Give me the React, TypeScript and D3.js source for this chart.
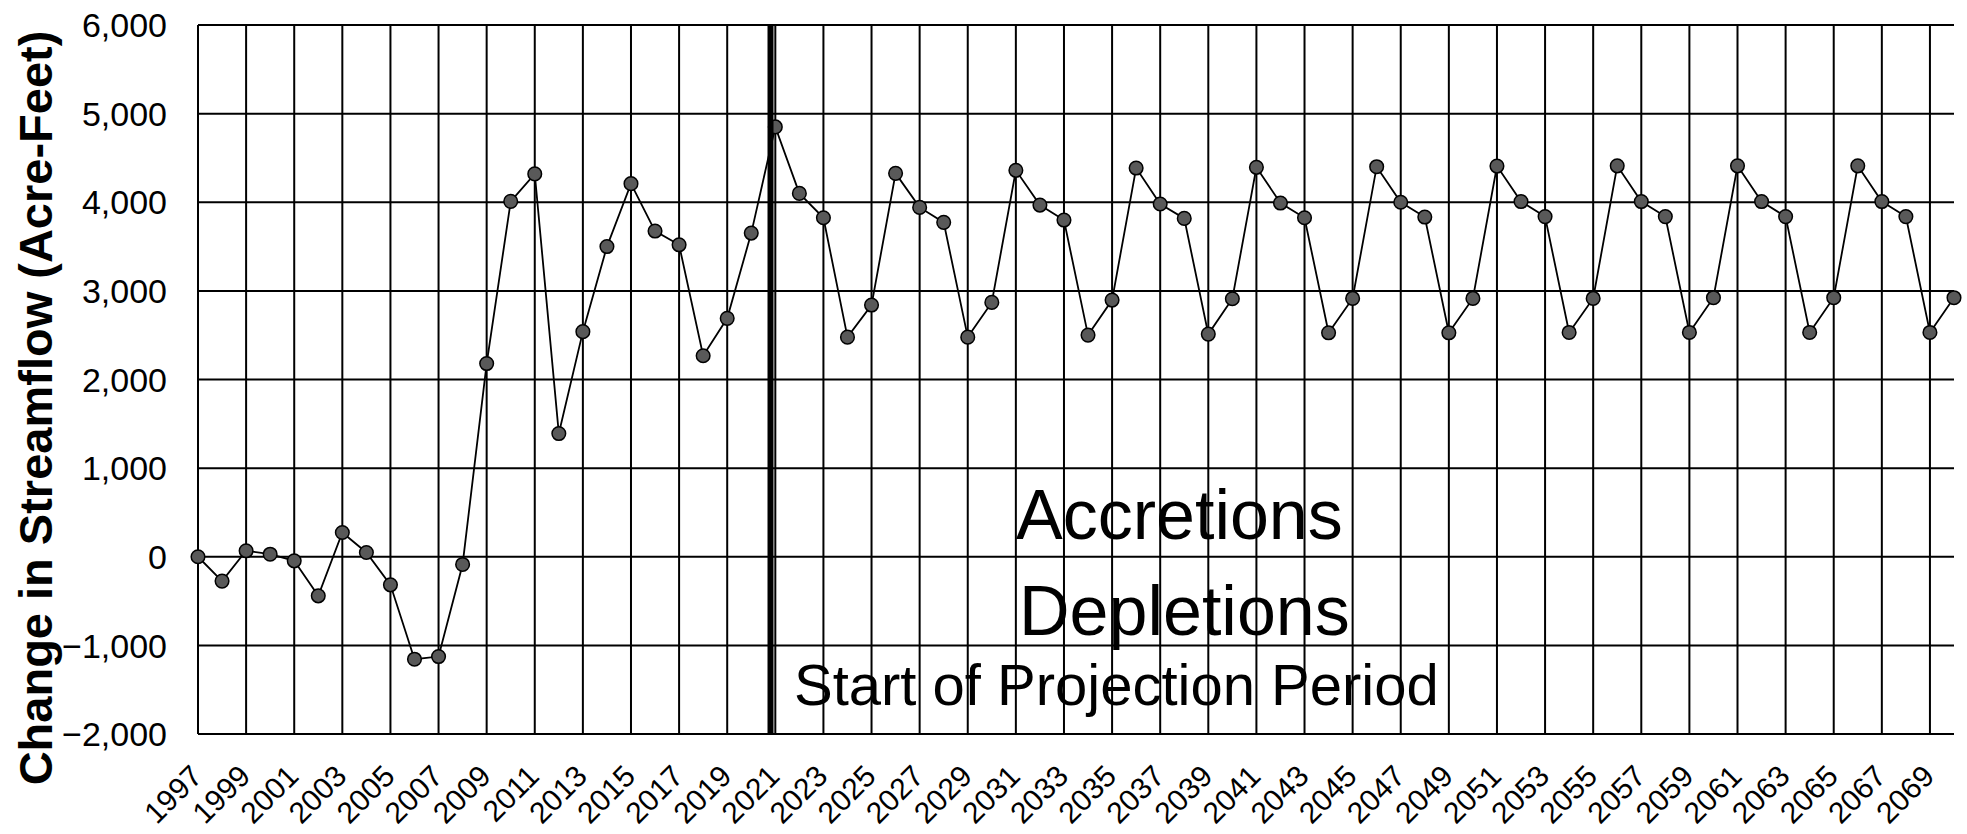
import React from "react";
import * as d3 from "d3";

const years: number[] = d3.range(1997, 2071);
const values: number[] = [
  0, -275, 67, 29, -46, -441, 274, 48, -317, -1156, -1126, -87,
  2180, 4010, 4320, 1390, 2540, 3500, 4210, 3675, 3520, 2268, 2690, 3652,
  4850, 4100, 3825, 2478, 2840, 4326, 3942, 3773, 2478, 2870,
  4360, 3968, 3799, 2501, 2896, 4386, 3980, 3818, 2512, 2911,
  4394, 3991, 3825, 2527, 2915, 4401, 4000, 3833, 2527, 2915,
  4408, 4008, 3838, 2531, 2915, 4411, 4008, 3838, 2531, 2923,
  4411, 4008, 3838, 2531, 2923, 4411, 4008, 3838, 2531, 2923,
];
const yTicks: number[] = [-2000, -1000, 0, 1000, 2000, 3000, 4000, 5000, 6000];
const xLabelYears: number[] = d3.range(1997, 2070, 2);
const projectionStart = 2020.8;
const yTitle = "Change in Streamflow (Acre-Feet)";
const annotations = ["Accretions", "Depletions", "Start of Projection Period"];

const W = 1967;
const H = 834;
const FONT = "'Liberation Sans', Arial, Helvetica, sans-serif";

export default function App() {
  const x = d3.scaleLinear().domain([1997, 2070]).range([198, 1954]);
  const y = d3.scaleLinear().domain([-2000, 6000]).range([734, 25]);
  const fmt = d3.format(",");
  const line = d3
    .line<number>()
    .x((_, i) => x(years[i]))
    .y((d) => y(d));

  return (
    <svg
      width={W}
      height={H}
      style={{ position: "absolute", left: 0, top: 0, background: "#fff" }}
      fontFamily={FONT}
    >
      <rect x={0} y={0} width={W} height={H} fill="#fff" />
      {yTicks.map((t) => (
        <line
          key={"h" + t}
          x1={x(1997)}
          x2={x(2070)}
          y1={y(t)}
          y2={y(t)}
          stroke="#000"
          strokeWidth={2}
        />
      ))}
      {xLabelYears.map((yr) => (
        <line
          key={"v" + yr}
          x1={x(yr)}
          x2={x(yr)}
          y1={y(6000)}
          y2={y(-2000)}
          stroke="#000"
          strokeWidth={2}
        />
      ))}
      {yTicks.map((t) => (
        <text
          key={"yl" + t}
          x={167}
          y={y(t)}
          dy="0.36em"
          textAnchor="end"
          fontSize={34}
          fill="#000"
        >
          {fmt(t)}
        </text>
      ))}
      {xLabelYears.map((yr) => (
        <text
          key={"xl" + yr}
          transform={`translate(${x(yr) + 6},${778}) rotate(-45)`}
          textAnchor="end"
          fontSize={30}
          fill="#000"
        >
          {yr}
        </text>
      ))}
      <text
        transform={`translate(52,${408}) rotate(-90)`}
        textAnchor="middle"
        fontSize={47}
        fontWeight="bold"
        fill="#000"
      >
        {yTitle}
      </text>
      <path d={line(values) || ""} fill="none" stroke="#000" strokeWidth={1.8} />
      {values.map((v, i) => (
        <circle
          key={"p" + i}
          cx={x(years[i])}
          cy={y(v)}
          r={6.8}
          fill="#595959"
          stroke="#000"
          strokeWidth={1.5}
        />
      ))}
      <line
        x1={x(projectionStart)}
        x2={x(projectionStart)}
        y1={y(6000)}
        y2={y(-2000)}
        stroke="#000"
        strokeWidth={6}
      />
      <text x={1016} y={539} fontSize={70} fill="#000">
        {annotations[0]}
      </text>
      <text x={1019} y={635} fontSize={70} fill="#000">
        {annotations[1]}
      </text>
      <text x={794} y={705} fontSize={58} fill="#000">
        {annotations[2]}
      </text>
    </svg>
  );
}
